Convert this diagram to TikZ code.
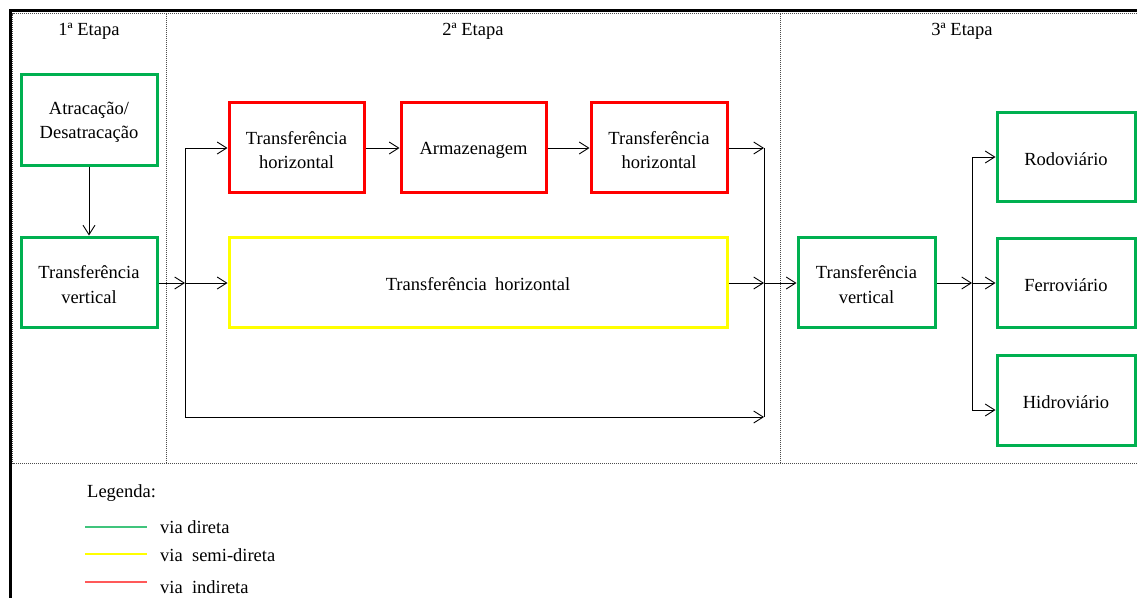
\documentclass[tikz,border=0pt]{standalone}
\usepackage{fontspec}
\setmainfont{Liberation Serif}
\usetikzlibrary{arrows.meta}
\definecolor{vgreen}{RGB}{0,176,80}
\definecolor{vyellow}{RGB}{255,255,0}
\definecolor{vred}{RGB}{255,0,0}
\tikzset{
  boxbase/.style={draw, line width=3pt, inner sep=0pt},
  gbox/.style={boxbase, draw=vgreen},
  ybox/.style={boxbase, draw=vyellow},
  rbox/.style={boxbase, draw=vred},
  boxtext/.style={align=center, inner sep=0pt, yshift=-2.5pt, font=\fontsize{18.5}{24.5}\selectfont},
  txt/.style={label={[boxtext]center:{#1}}},
  arr/.style={-{Straight Barb[length=9.5pt,width=12pt,line width=0.9pt]}, line width=0.9pt},
  bus/.style={line width=0.9pt},
  dotline/.style={draw=black!70, line width=1pt, dash pattern=on 1pt off 1pt},
  lbl/.style={font=\fontsize{18.5}{22}\selectfont, inner sep=0pt},
  legline/.style={line width=1.4pt}
}
\begin{document}
\begin{tikzpicture}[x=1pt,y=-1pt]
\useasboundingbox (0,0) rectangle (1137,598);
% frame
\draw[line width=3pt] (1137,10) -- (10,10) -- (10,598);
\draw[dotline] (1137,13.5) -- (12.5,13.5) -- (12.5,463.5) -- (1137,463.5);
\draw[dotline] (166,13.5) -- (166,463.5);
\draw[dotline] (780.5,13.5) -- (780.5,463.5);
% headers
\node[lbl] (h1) at (89,31.5) {1ª Etapa};
\node[lbl] (h2) at (473,31.5) {2ª Etapa};
\node[lbl] (h3) at (962,31.5) {3ª Etapa};
% stage 1
\node[gbox, minimum width=136, minimum height=91, txt={Atracação/\\Desatracação}] (atr) at (89,119.5) {};
\node[gbox, minimum width=136, minimum height=90, txt={Transferência\\vertical}] (tvl) at (89,282) {};
% stage 2
\node[rbox, minimum width=135, minimum height=90, txt={Transferência\\horizontal}] (th1) at (296.5,147.5) {};
\node[rbox, minimum width=145, minimum height=90, txt={Armazenagem}] (arm) at (473.5,147.5) {};
\node[rbox, minimum width=136, minimum height=90, txt={Transferência\\horizontal}] (th2) at (659,147.5) {};
\node[ybox, minimum width=498, minimum height=90, txt={Transferência\hspace{0.45em}horizontal}] (yel) at (478,282) {};
% stage 3
\node[gbox, minimum width=137, minimum height=90, txt={Transferência\\vertical}] (tvr) at (866.5,282) {};
\node[gbox, minimum width=138, minimum height=89, txt={Rodoviário}] (rod) at (1066,156.5) {};
\node[gbox, minimum width=138, minimum height=89, txt={Ferroviário}] (fer) at (1066,282.5) {};
\node[gbox, minimum width=138, minimum height=90, txt={Hidroviário}] (hid) at (1066,400) {};
% junction coordinates
\coordinate (jlt) at (185,148);
\coordinate (jlm) at (185,283);
\coordinate (jlb) at (185,417);
\coordinate (jrt) at (764,148);
\coordinate (jrm) at (764,283);
\coordinate (jrb) at (764,417);
\coordinate (jst) at (972,157);
\coordinate (jsm) at (972,283);
\coordinate (jsb) at (972,410);
% connectors
\draw[arr] (atr) -- (tvl);
\draw[arr] (tvl.east |- jlm) -- (jlm);
\draw[bus] (jlt) -- (jlb);
\draw[arr] (jlt) -- (jlt -| th1.west);
\draw[arr] (jlm) -- (jlm -| yel.west);
\draw[arr] (jlb) -- (jrb);
\draw[arr] (th1.east |- jlt) -- (jlt -| arm.west);
\draw[arr] (arm.east |- jlt) -- (jlt -| th2.west);
\draw[arr] (th2.east |- jrt) -- (jrt);
\draw[arr] (yel.east |- jrm) -- (jrm);
\draw[bus] (jrt) -- (jrb);
\draw[arr] (jrm) -- (jrm -| tvr.west);
\draw[arr] (tvr.east |- jsm) -- (jsm);
\draw[bus] (jst) -- (jsb);
\draw[arr] (jst) -- (jst -| rod.west);
\draw[arr] (jsm) -- (jsm -| fer.west);
\draw[arr] (jsb) -- (jsb -| hid.west);
% legend
\node[lbl, anchor=west] (leg) at (87,493.5) {Legenda:};
\coordinate (g1) at (85,527); \coordinate (g2) at (147,527);
\coordinate (y1) at (85,554); \coordinate (y2) at (147,554);
\coordinate (r1) at (85,582); \coordinate (r2) at (147,582);
\draw[legline, draw=vgreen!75] (g1) -- (g2);
\draw[legline, draw=vyellow] (y1) -- (y2);
\draw[legline, draw=vred!65] (r1) -- (r2);
\node[lbl, anchor=west] (l1) at (160,527) {via direta};
\node[lbl, anchor=west] (l2) at (160,555) {via\hspace{0.5em}semi-direta};
\node[lbl, anchor=west] (l3) at (160,587.5) {via\hspace{0.5em}indireta};
\end{tikzpicture}
\end{document}
